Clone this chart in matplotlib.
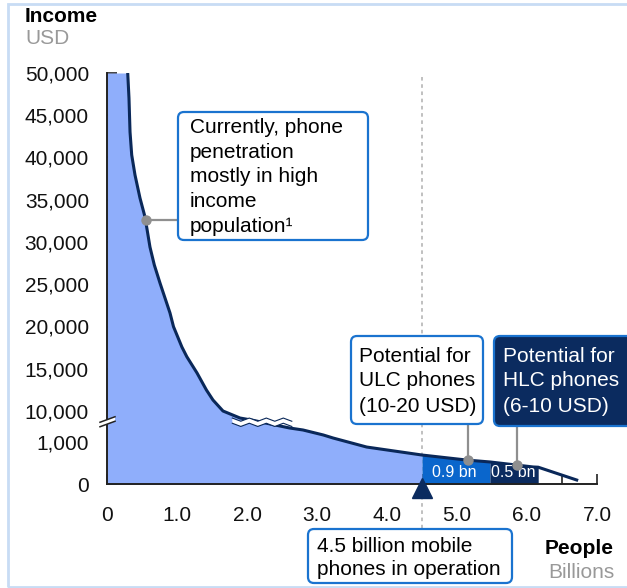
import numpy as np
import matplotlib
matplotlib.use("Agg")
import matplotlib.pyplot as plt
from matplotlib import transforms
from matplotlib.patches import FancyBboxPatch, Rectangle, Polygon
from matplotlib.lines import Line2D

plt.rcParams['font.family'] = ['Liberation Sans', 'DejaVu Sans']

# ---------------- data ----------------
people = [0.0, 0.296, 0.314, 0.329, 0.353, 0.40, 0.471, 0.543, 0.614, 0.676, 0.757,
          0.90, 0.95, 1.07, 1.14, 1.286, 1.42, 1.514, 1.657, 1.90, 2.10, 2.30, 2.61,
          2.80, 3.09, 3.23, 3.71, 4.50, 5.14, 5.47, 6.09, 6.16, 6.71]
income = [50000, 50000, 47040, 43020, 40300, 37930, 35210, 32960, 29400, 27280, 25150,
          21600, 19980, 17570, 16430, 14500, 12490, 11300, 10000, 9170, 8876, 1440, 1333,
          1286, 1167, 1095, 880, 690, 570, 525, 405, 400, 95]
current_users = 4.5      # billion phones in operation
ulc_end = 5.47           # + 0.9 bn
hlc_end = 6.16           # + 0.5 bn
segment_labels = ["0.9 bn", "0.5 bn"]
ytick_values = [0, 1000, 10000, 15000, 20000, 25000, 30000, 35000, 40000, 45000, 50000]
ytick_labels = ["0", "1,000", "10,000", "15,000", "20,000", "25,000", "30,000",
                "35,000", "40,000", "45,000", "50,000"]
xtick_values = [0, 0.5, 1, 1.5, 2, 2.5, 3, 3.5, 4, 4.5, 5, 5.5, 6, 6.5, 7]
xtick_labels = ["0", "", "1.0", "", "2.0", "", "3.0", "", "4.0", "", "5.0", "", "6.0", "", "7.0"]
high_income_dot_x = 0.55
ulc_dot_x = 5.16
hlc_dot_x = 5.86

people = np.array(people)
income = np.array(income, dtype=float)

# ---------------- colours ----------------
LIGHT = "#8FAEFB"
MID = "#0A66CC"
NAVY = "#0B2B5F"
LINE = "#0A2859"
EDGE = "#1A73CF"
GRAY = "#8F8F8F"

W, H = 627, 588
fig = plt.figure(figsize=(W / 100, H / 100), dpi=100)
ax = fig.add_axes([107 / W, (H - 484) / H, (597 - 107) / W, (484 - 73) / H])

# broken y scale (0-~1,500 lower segment, ~8,800-50,000 upper segment)
V1 = 62 / 0.042
V2 = 10000 - (73 - 62.5) / 0.00845
vs = np.array([-1e5, 0, V1, V2, 50000, 1e6])
ts = np.array([-4200, 0, 62, 62.5, 411, 411 + 950000 * 0.00845])


def fwd(v):
    return np.interp(v, vs, ts)


def inv(t):
    return np.interp(t, ts, vs)


ax.set_yscale('function', functions=(fwd, inv))
ax.set_xlim(0, 7)
ax.set_ylim(0, 50000)

# fills
m1 = people <= current_users
m2 = (people >= current_users) & (people <= ulc_end)
m3 = (people >= ulc_end) & (people <= hlc_end)
ax.fill_between(people[m1], 0, income[m1], color=LIGHT, lw=0, zorder=2)
ax.fill_between(people[m2], 0, income[m2], color=MID, lw=0, zorder=2)
ax.fill_between(people[m3], 0, income[m3], color=NAVY, lw=0, zorder=2)
ax.plot(people[1:], income[1:], color=LINE, lw=2.2, zorder=4, solid_joinstyle='round')

# vertical dotted line
bt = transforms.blended_transform_factory(ax.transData, transforms.IdentityTransform())
ax.add_line(Line2D([current_users, current_users], [H - 77, H - 529], transform=bt,
                   color="#BBBBBB", lw=1.3, ls=(0, (2, 2)), zorder=1, clip_on=False))

# segment labels
ax.text((current_users + ulc_end) / 2 - 0.02, 262, segment_labels[0], color="white",
        fontsize=11.5, ha='center', va='center', zorder=5)
ax.text((ulc_end + hlc_end) / 2 - 0.01, 262, segment_labels[1], color="white",
        fontsize=11.5, ha='center', va='center', zorder=5)

# axes styling
for s in ['top', 'right']:
    ax.spines[s].set_visible(False)
for s in ['left', 'bottom']:
    ax.spines[s].set_color("#222222")
    ax.spines[s].set_linewidth(1.4)
    ax.spines[s].set_zorder(6)
ax.set_yticks(ytick_values)
ax.set_yticklabels(ytick_labels)
ax.set_xticks(xtick_values)
ax.set_xticklabels(xtick_labels)
ax.yaxis.set_minor_locator(matplotlib.ticker.NullLocator())
ax.tick_params(axis='both', direction='in', length=7, width=1.2, color="#222222",
               labelsize=15, labelcolor="#111111")
ax.tick_params(axis='y', pad=13)
ax.tick_params(axis='x', pad=16)
ax.patch.set_alpha(0)

# triangle marker
off = transforms.ScaledTranslation(0, -0.04, fig.dpi_scale_trans)
ax.plot([current_users], [0], marker='^', markersize=14, color=NAVY, ls='none',
        transform=ax.transData + off, clip_on=False, zorder=7)

fig.canvas.draw()
IT = transforms.IdentityTransform()


def disp(x, y):
    return ax.transData.transform((x, y))


# curve break zigzag
brk = (V1 + V2) / 2
x0 = disp(1.79, brk)[0]
x1 = disp(2.64, brk)[0]
yc = disp(1.79, brk)[1] - 0.5
xs = np.linspace(x0, x1, 8)
wave = np.array([1.6 if i % 2 == 0 else -1.6 for i in range(len(xs))])
top = np.column_stack([xs, yc + 2.6 + wave])
bot = np.column_stack([xs, yc - 2.6 + wave])
ax.add_patch(Polygon(np.vstack([top, bot[::-1]]), closed=True, transform=IT,
                     facecolor='white', edgecolor='none', zorder=8, clip_on=False))
ax.add_line(Line2D(top[:, 0], top[:, 1], transform=IT, color=LINE, lw=0.8, zorder=9))
ax.add_line(Line2D(bot[:, 0], bot[:, 1], transform=IT, color=LINE, lw=0.8, zorder=9))

# axis break on left spine
sx = disp(0, brk)[0]
sy = disp(0, brk)[1]
p1 = np.array([[sx - 7, sy - 5], [sx + 8, sy + 0.5]])
p2 = p1 + np.array([0, 4.5])
ax.add_patch(Polygon(np.vstack([p1, p2[::-1]]), closed=True, transform=IT,
                     facecolor='white', edgecolor='none', zorder=8, clip_on=False))
ax.add_line(Line2D(p1[:, 0], p1[:, 1], transform=IT, color="#222222", lw=1.1, zorder=9,
                   clip_on=False))
ax.add_line(Line2D(p2[:, 0], p2[:, 1], transform=IT, color="#222222", lw=1.1, zorder=9,
                   clip_on=False))


# ---------------- annotation boxes (pixel layout, y from top) ----------------
def box(x0, y0, x1, y1, fc, ec):
    p = FancyBboxPatch((x0, H - y1), x1 - x0, y1 - y0,
                       boxstyle="round,pad=0,rounding_size=6", transform=IT,
                       facecolor=fc, edgecolor=ec, lw=1.6, zorder=10, clip_on=False)
    fig.patches.append(p)


def ptext(x, y, s, **kw):
    fig.text(x / W, 1 - y / H, s, **kw)


def leader(dot_x, x_end=None, y_end=None):
    d = disp(dot_x, np.interp(dot_x, people, income))
    if x_end is not None:
        xs_, ys_ = [d[0], x_end], [d[1], d[1]]
    else:
        xs_, ys_ = [d[0], d[0]], [d[1], H - y_end]
    fig.lines.append(Line2D(xs_, ys_, transform=IT, color=GRAY, lw=1.6, zorder=9))
    fig.lines.append(Line2D([d[0]], [d[1]], transform=IT, marker='o', markersize=6.5,
                            color=GRAY, ls='none', zorder=9))


leader(high_income_dot_x, x_end=178)
box(178, 112, 368, 240, 'white', EDGE)
ptext(190, 177, "Currently, phone\npenetration\nmostly in high\nincome\npopulation\u00b9",
      fontsize=15, va='center', ha='left', linespacing=1.38, zorder=11)

leader(ulc_dot_x, y_end=424)
box(351, 336, 483, 424, 'white', EDGE)
ptext(359, 381, "Potential for\nULC phones\n(10-20 USD)", fontsize=15, va='center',
      ha='left', linespacing=1.4, zorder=11)

leader(hlc_dot_x, y_end=426)
box(494, 336, 640, 426, NAVY, EDGE)
ptext(503, 381, "Potential for\nHLC phones\n(6-10 USD)", fontsize=15, va='center',
      ha='left', linespacing=1.4, color='white', zorder=11)

box(308, 529, 512, 583, 'white', EDGE)
ptext(317, 558, "4.5 billion mobile\nphones in operation", fontsize=15, va='center',
      ha='left', linespacing=1.25, zorder=11)

# axis titles
ptext(25, 16, "Income", fontsize=15, fontweight='bold', va='center', ha='left')
ptext(25, 39, "USD", fontsize=15, color="#999999", va='center', ha='left')
ptext(614, 549, "People", fontsize=15, fontweight='bold', va='center', ha='right')
ptext(614, 572, "Billions", fontsize=15, color="#999999", va='center', ha='right')

# outer frame
fig.patches.append(Rectangle((8, H - 587), 700, 583, transform=IT, fill=False,
                             edgecolor="#C8DCF4", lw=2, zorder=0))

fig.savefig("out.png", dpi=100)
